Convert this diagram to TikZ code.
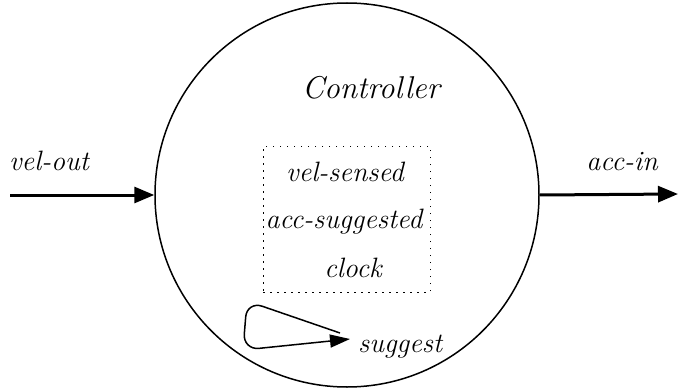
\documentclass[tikz,border=0pt]{standalone}
\usetikzlibrary{arrows.meta}

\begin{document}
\begin{tikzpicture}[
      x=1pt, y=-1pt,
      txt/.style={anchor=base, inner sep=0pt,
                  font=\fontsize{28}{30}\selectfont\itshape},
      flow/.style={line width=3pt, -{Triangle[length=20pt,width=16pt]}},
      box/.style={draw, line width=1pt, dash pattern=on 1.5pt off 5.5pt,
                  minimum width=167pt, minimum height=146pt}
    ]
      \useasboundingbox (0,0) rectangle (678,388);
      % process and its state
      \node[circle, draw, line width=1.5pt, minimum size=384pt, inner sep=0pt] (ctrl) at (347,195) {};
      \node[txt, font=\fontsize{31.5}{34}\selectfont\itshape] (name) at (371,98) {Controller};
      \node[box] (mem) at (346.5,219) {};
      \node[txt] (vs) at (345,181) {vel-sensed};
      \node[txt] (as) at (344,228) {acc-suggested};
      \node[txt] (clk) at (353,277) {clock};
      % ports
      \coordinate (src) at (10,195);
      \coordinate (dst) at (678,194);
      \draw[flow] (src) -- (ctrl.west);
      \draw[flow] (ctrl.east) -- (dst);
      \node[txt] (vo) at (49,170) {vel-out};
      \node[txt] (ai) at (622,170) {acc-in};
      % internal action
      \node[txt, anchor=base west] (sug) at (358,352) {suggest};
      \coordinate (lpA) at (340,333);
      \coordinate (lpB) at (350,339);
      \draw[line width=1.5pt, rounded corners=16pt, -{Triangle[length=20pt,width=13pt]}]
        (lpA) -- (247,301) -- (243,350) -- (lpB);
    \end{tikzpicture}
\end{document}
